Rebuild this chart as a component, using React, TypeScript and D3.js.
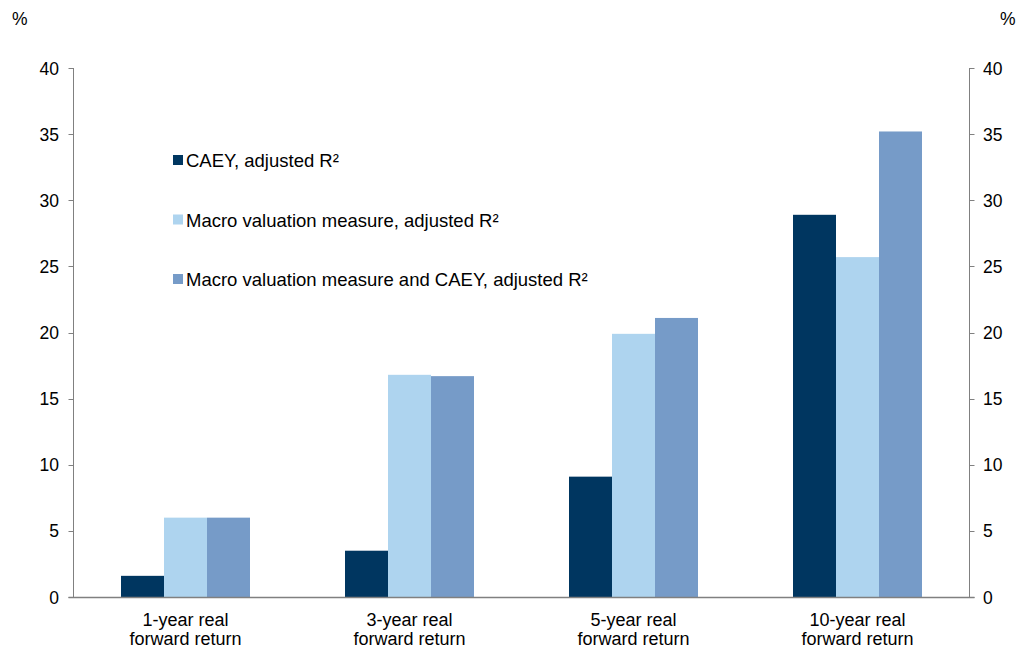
import React from "react";
import * as d3 from "d3";

const categories = ["1-year real|forward return", "3-year real|forward return", "5-year real|forward return", "10-year real|forward return"];
const seriesNames = [
  "CAEY, adjusted R²",
  "Macro valuation measure, adjusted R²",
  "Macro valuation measure and CAEY, adjusted R²",
];
const caey = [1.6, 3.5, 9.1, 28.9];
const macro = [6.0, 16.8, 19.9, 25.7];
const combined = [6.0, 16.7, 21.1, 35.2];
const colors = ["#003660", "#aed4ef", "#769bc8"];
const yTicks = [0, 5, 10, 15, 20, 25, 30, 35, 40];

export default function App() {
  const W = 1027, H = 648;
  const left = 73.5, right = 969.5, top = 68, bottom = 597;
  const series = [caey, macro, combined];
  const x = d3.scaleBand().domain(categories).range([left, right]).paddingInner(0).paddingOuter(0);
  const bw = 43;
  const y = d3.scaleLinear().domain([0, 40]).range([bottom, top]);
  const font = "Liberation Sans, Arial, sans-serif";
  const axisColor = "#808080";
  return (
    <svg width={W} height={H} style={{ position: "absolute", left: 0, top: 0 }} fontFamily={font}>
      <rect width={W} height={H} fill="#fff" />
      {categories.map((c, i) => {
        const cx = (x(c) as number) + x.bandwidth() / 2;
        return series.map((s, j) => (
          <rect key={c + j} x={cx - 1.5 * bw + j * bw} y={y(s[i])} width={bw} height={y(0) - y(s[i])} fill={colors[j]} />
        ));
      })}
      <line x1={left} x2={left} y1={top} y2={bottom} stroke={axisColor} strokeWidth={1} />
      <line x1={right} x2={right} y1={top} y2={bottom} stroke={axisColor} strokeWidth={1} />
      <line x1={left - 5} x2={right + 5} y1={bottom + 0.5} y2={bottom + 0.5} stroke={axisColor} strokeWidth={1.5} />
      {yTicks.map((t) => (
        <g key={t}>
          <line x1={left - 5} x2={left} y1={Math.round(y(t)) + 0.5} y2={Math.round(y(t)) + 0.5} stroke={axisColor} />
          <line x1={right} x2={right + 5} y1={Math.round(y(t)) + 0.5} y2={Math.round(y(t)) + 0.5} stroke={axisColor} />
          <text x={59} y={y(t) + 6.5} textAnchor="end" fontSize={17.5} fill="#000">{t}</text>
          <text x={983} y={y(t) + 6.5} textAnchor="start" fontSize={17.5} fill="#000">{t}</text>
        </g>
      ))}
      <text x={12} y={25} fontSize={17.5}>%</text>
      <text x={1000} y={25} fontSize={17.5}>%</text>
      {categories.map((c) => {
        const cx = (x(c) as number) + x.bandwidth() / 2;
        const lines = c.split("|");
        return (
          <text key={c} textAnchor="middle" fontSize={18}>
            {lines.map((l, k) => (
              <tspan key={k} x={cx} y={626 + k * 19}>{l}</tspan>
            ))}
          </text>
        );
      })}
      {seriesNames.map((n, i) => (
        <g key={n}>
          <rect x={173} y={155 + i * 59.5} width={10} height={10} fill={colors[i]} />
          <text x={186} y={167 + i * 59.5} fontSize={18.5}>{n}</text>
        </g>
      ))}
    </svg>
  );
}
